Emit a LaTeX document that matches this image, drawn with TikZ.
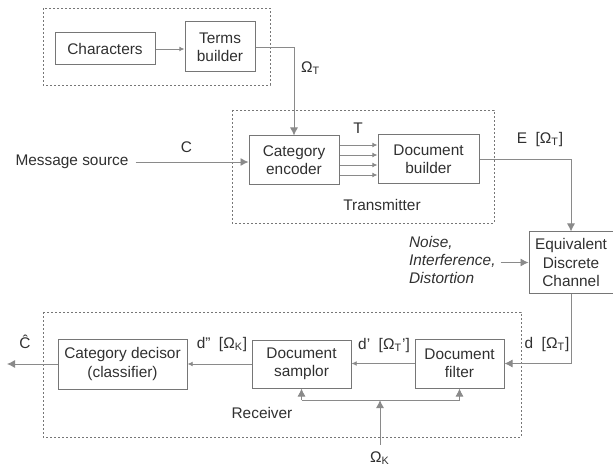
\documentclass[tikz,border=0pt]{standalone}
\usepackage{fontspec}
\setmainfont{Liberation Sans}
\usetikzlibrary{arrows.meta}
\definecolor{linegray}{HTML}{8A8A8A}
\definecolor{boxgray}{HTML}{767676}
\definecolor{txtgray}{HTML}{303030}
\begin{document}
\begin{tikzpicture}[x=0.5pt,y=-0.5pt,
        font=\fontsize{7.7}{9.2}\selectfont, text=txtgray,
        blk/.style={draw=boxgray,line width=0.5pt,rectangle,inner sep=1pt,align=center},
        grp/.style={draw=boxgray,line width=0.45pt,dash pattern=on 1.2pt off 0.8pt},
        wire/.style={draw=linegray,line width=0.45pt},
        big/.style={-{Latex[length=4pt,width=4pt]}},
        sml/.style={-{Latex[length=2.6pt,width=2.4pt]}}]
\useasboundingbox (0,0) rectangle (613,469);

% grouping frames
\draw[grp] (43,8) rectangle (270,85);
\draw[grp] (232,110) rectangle (494,223);
\draw[grp] (43,312) rectangle (521,437);

% blocks
\node[blk,minimum width=50pt,minimum height=16pt] (chars) at (105,49) {Characters};
\node[blk,minimum width=35pt,minimum height=25pt] (terms) at (220,47) {Terms\\builder};
\node[blk,minimum width=45pt,minimum height=24.5pt] (enc) at (294,160.5) {Category\\encoder};
\node[blk,minimum width=50.5pt,minimum height=24.5pt] (docb) at (428.5,159.5) {Document\\builder};
\node[blk,minimum width=42pt,minimum height=30.5pt] (chan) at (571,262.5) {Equivalent\\Discrete\\Channel};
\node[blk,minimum width=44.5pt,minimum height=24.5pt] (filt) at (459.5,363.5) {Document\\filter};
\node[blk,minimum width=49.5pt,minimum height=24pt] (samp) at (301.5,364) {Document\\samplor};
\node[blk,minimum width=64.5pt,minimum height=25pt] (dec) at (122.5,364) {Category decisor\\(classifier)};

% free texts
\node (src) at (72,162) {Message source};
\node[anchor=west,align=left,font=\fontsize{7.7}{9.2}\selectfont\itshape] (noise) at (402,260) {Noise,\\Interference,\\Distortion};
\node (omk) at (380,458) {Ω\textsubscript{K}};
\node (tx) at (382,205) {Transmitter};
\node (rx) at (262,413) {Receiver};
\coordinate (out) at (7,364);
\coordinate (cbar) at (380,400);

% connectors
\draw[wire,sml] (chars) -- (terms.west |- chars);
\draw[wire,big] (terms.east) -| node[pos=0.62,right] {Ω\textsubscript{T}} (enc.north);
\draw[wire,big] (src.east) -- node[pos=0.45,above=1pt] {C} (enc.west |- src.east);
\foreach \yy in {145,155,165,175}
  \draw[wire,sml] (enc.east |- 0,\yy) -- (docb.west |- 0,\yy);
\node (tlab) at (358,128) {T};
\draw[wire,big] (docb.east) -| (chan.north);
\node (elab) at (540,140) {E~~[Ω\textsubscript{T}]};
\draw[wire,big] (noise.east |- chan.west) ++(-2,0) -- (chan.west);
\draw[wire,big] (chan.south) |- (filt.east);
\node (dlab) at (547,345) {d~~[Ω\textsubscript{T}]};
\draw[wire,sml] (filt.west) -- (samp.east |- filt.west);
\node (d1lab) at (384,346) {d'~~[Ω\textsubscript{T}']};
\draw[wire,sml] (samp.west) -- (dec.east |- samp.west);
\node (d2lab) at (222,345) {d''~~[Ω\textsubscript{K}]};
\draw[wire,big] (dec.west) -- (out);
\node (chat) at (25,342) {Ĉ};
\draw[wire,big] (omk.north) -- (cbar);
\draw[wire,big] (cbar -| samp.south) -- (samp.south);
\draw[wire,big] (cbar -| filt.south) -- (filt.south);
\draw[wire] (cbar -| samp.south) -- (cbar -| filt.south);
\end{tikzpicture}
\end{document}
